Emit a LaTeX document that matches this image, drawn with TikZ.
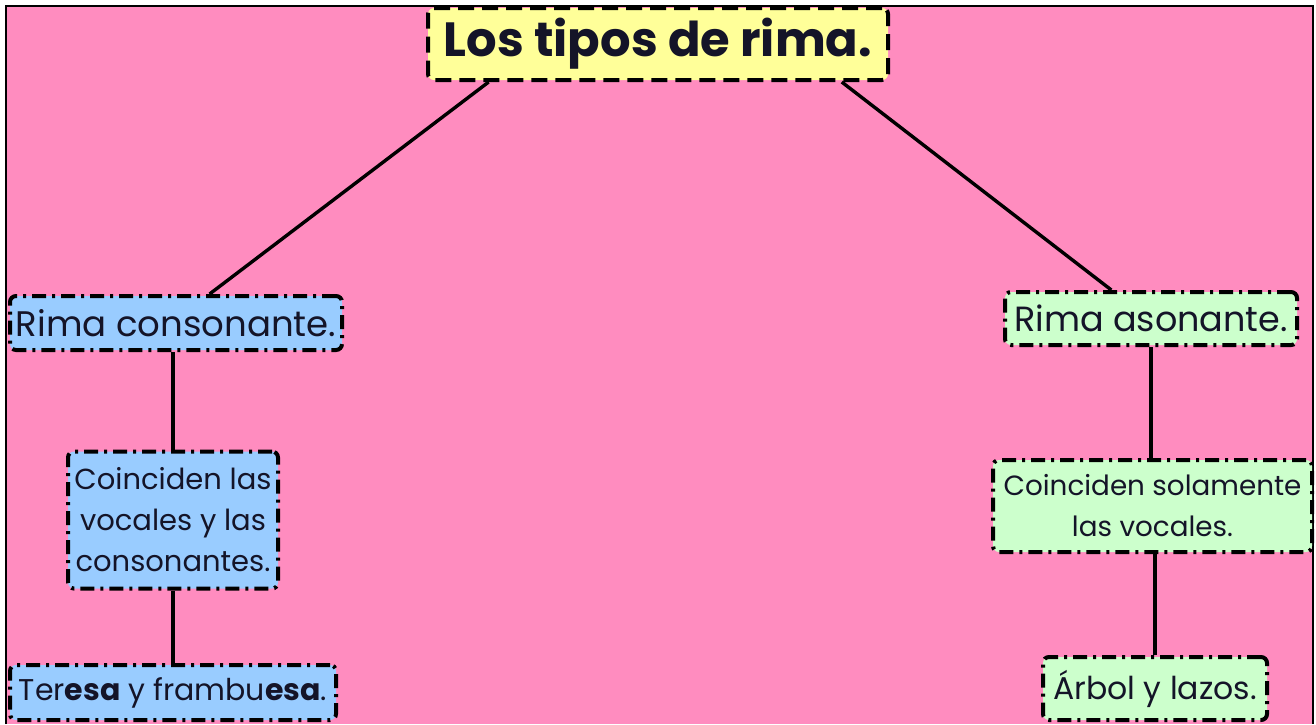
\documentclass[tikz,border=0pt]{standalone}
\usepackage{fontspec}
\setmainfont{Poppins}
\usetikzlibrary{calc}
\definecolor{bgpink}{HTML}{FF8CBF}
\definecolor{titleyellow}{HTML}{FFFF99}
\definecolor{consblue}{HTML}{99CCFF}
\definecolor{asongreen}{HTML}{CCFFCC}
\definecolor{inkc}{HTML}{141428}
\tikzset{
  box/.style={draw=black, line width=4pt, rounded corners=6pt, inner sep=0pt, align=center, text=inkc,
    dash pattern=on 14pt off 6pt on 3pt off 6pt},
  titlebox/.style={box, fill=titleyellow, dash pattern=on 16pt off 8pt},
  bluebox/.style={box, fill=consblue},
  greenbox/.style={box, fill=asongreen},
  link/.style={draw=black, line width=3.4pt}
}
\begin{document}
\begin{tikzpicture}[x=1pt,y=-1pt]
\useasboundingbox (0,0) rectangle (1316,724);
\fill[white] (0,0) rectangle (1316,724);
\fill[bgpink] (6,6) rectangle (1313,724);
\draw[black, line width=2.5pt] (6,724) -- (6,6) -- (1313,6) -- (1313,724);

\node[titlebox, minimum width=460pt, minimum height=72pt, font=\fontsize{48}{54}\selectfont\bfseries] (title) at (658,44) {Los tipos de rima.};

\node[bluebox, minimum width=332pt, minimum height=54pt, font=\fontsize{35.5}{40}\selectfont] (cons) at (176,323) {Rima consonante.};
\node[bluebox, minimum width=210pt, minimum height=137pt, font=\fontsize{29}{41}\selectfont] (coinc) at (173,520) {Coinciden las\\vocales y las\\consonantes.};
\node[bluebox, minimum width=326pt, minimum height=55pt, font=\fontsize{30}{34}\selectfont] (teresa) at (173,692.5) {Ter\textbf{esa} y frambu\textbf{esa}.};

\node[greenbox, minimum width=292pt, minimum height=53pt, font=\fontsize{35}{40}\selectfont] (ason) at (1151,318.5) {Rima asonante.};
\node[greenbox, minimum width=319pt, minimum height=92pt, font=\fontsize{27.8}{41}\selectfont] (sol) at (1152.5,506) {Coinciden solamente\\las vocales.};
\node[greenbox, minimum width=224pt, minimum height=63pt, font=\fontsize{31.5}{36}\selectfont] (arbol) at (1155,688.5) {Árbol y lazos.};

\draw[link] ($(title.south west)!0.135!(title.south east)$) -- ($(cons.north west)!0.60!(cons.north east)$);
\draw[link] ($(title.south west)!0.896!(title.south east)$) -- ($(ason.north west)!0.366!(ason.north east)$);
\draw[link] (cons.south -| coinc.north) -- (coinc.north);
\draw[link] (coinc.south) -- (teresa.north);
\draw[link] (ason.south) -- (ason.south |- sol.north);
\draw[link] (sol.south -| arbol.north) -- (arbol.north);
\end{tikzpicture}
\end{document}
